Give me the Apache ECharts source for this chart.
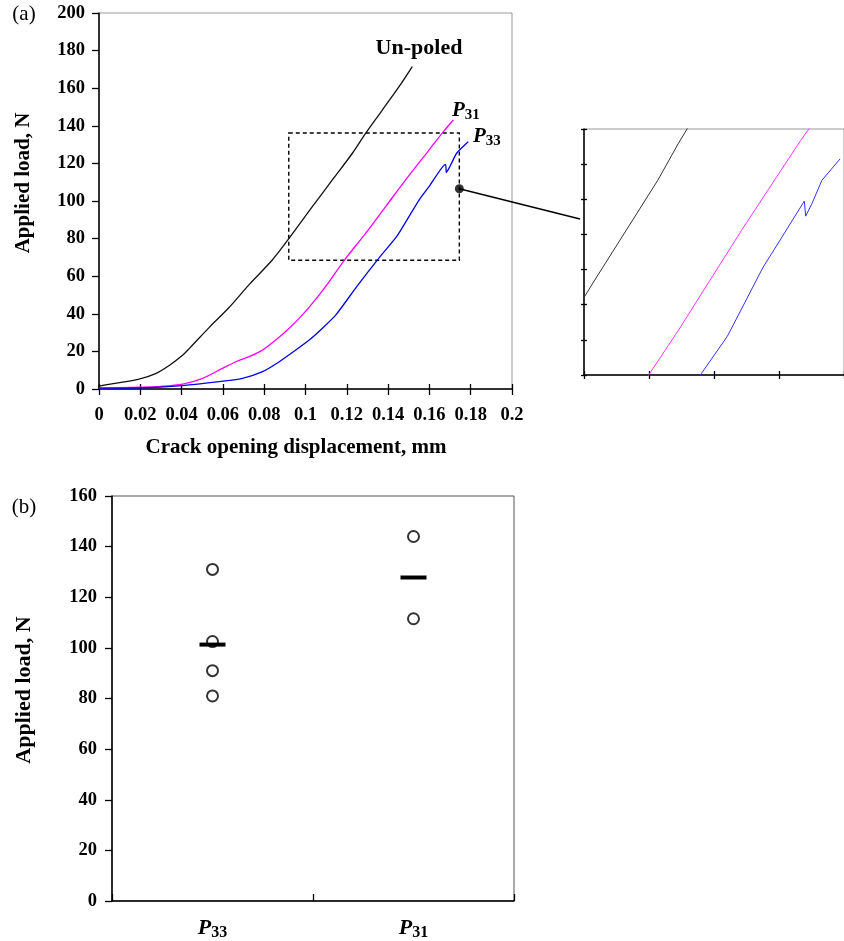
<!DOCTYPE html>
<html>
<head>
<meta charset="utf-8">
<script src="https://cdn.jsdelivr.net/npm/echarts@6/dist/echarts.min.js"></script>
<style>
  html, body { margin: 0; padding: 0; background: #fff; }
  #main { width: 844px; height: 941px; }
</style>
</head>
<body>
<div id="main"></div>
<script>
// (a) applied load vs crack opening displacement, points are [mm, N]
var unpoled = [[0, 0.5], [0.0005, 1.6], [0.0077, 3.0], [0.019, 5.1], [0.0271, 8], [0.034, 12.5],
  [0.040, 17.5], [0.0437, 21.5], [0.0534, 32.8], [0.0631, 43.5], [0.0727, 55.5], [0.0839, 68.6],
  [0.092, 80.1], [0.1033, 97], [0.113, 111.2], [0.1227, 125.4], [0.1291, 136], [0.1372, 148.4],
  [0.1453, 160.8], [0.1517, 171.5]];

var p31Curve = [[0, 0.5], [0.02, 1], [0.030, 1.4], [0.0405, 2.6], [0.0502, 5.7], [0.0598, 11],
  [0.0663, 14.5], [0.0727, 17.2], [0.0792, 20.7], [0.0856, 26], [0.0921, 32.3], [0.0985, 39.4],
  [0.1050, 47.8], [0.1114, 57], [0.1186, 68.2], [0.1291, 82.8], [0.1388, 97], [0.1485, 111.2],
  [0.1598, 127.1], [0.1667, 136.8], [0.1716, 143.1]];

var p33Curve = [[0, 0.5], [0.02, 0.6], [0.0405, 1.8], [0.0582, 3.9], [0.0695, 5.7], [0.0792, 9.2],
  [0.0873, 14.5], [0.0953, 20.7], [0.1018, 26], [0.1082, 32.3], [0.1147, 39.4], [0.1248, 54.4],
  [0.1361, 70.4], [0.1441, 81], [0.1501, 91.7], [0.1550, 100.5], [0.1598, 107.6],
  [0.1678, 119.5], [0.1682, 115.2], [0.1700, 118.5], [0.1732, 125.4], [0.1788, 131.5]];

// zoomed region marked on (a)
var zoomBox = [[0.0919, 136.2], [0.1745, 68.5]];
var zoomDot = [0.1745, 106.5];
var leaderEnd = [0.10, 114.4];

// (b) failure loads
var groups = ['P33', 'P31'];
var p33Loads = [131, 102.5, 91, 81];
var p31Loads = [144, 111.5];
var meanLoads = [101.3, 127.8];

var serif = '"Liberation Serif", "Times New Roman", serif';
var black = '#000';

var myChart = echarts.init(document.getElementById('main'));

function valueAxis(grid, min, max, step, o) {
  var ax = {
    type: 'value', gridIndex: grid, min: min, max: max, interval: step,
    splitLine: { show: false },
    axisLine: { show: true, lineStyle: { color: black, width: 1.5 } },
    axisTick: { show: true, inside: false, length: 6, lineStyle: { color: black, width: 1.3 } },
    axisLabel: { show: false }
  };
  return Object.assign(ax, o || {});
}

var tickFont = { fontFamily: serif, fontWeight: 'bold', fontSize: 18.5, color: black };
var subRich = {
  p: { fontFamily: serif, fontStyle: 'italic', fontWeight: 'bold', fontSize: 21, lineHeight: 24, color: black },
  s: { fontFamily: serif, fontWeight: 'bold', fontSize: 15, lineHeight: 14, verticalAlign: 'bottom', color: black }
};

var option = {
  animation: false,
  backgroundColor: '#fff',
  grid: [
    { left: 99, top: 13, width: 413, height: 376, show: true, borderColor: '#999', borderWidth: 1 },
    { left: 584, top: 129, width: 272, height: 246, show: true, borderColor: '#999', borderWidth: 1 },
    { left: 112, top: 496, width: 402, height: 407, show: true, borderColor: '#555', borderWidth: 1 }
  ],
  xAxis: [
    valueAxis(0, 0, 0.2, 0.02, {
      position: 'bottom',
      axisLabel: Object.assign({ show: true, margin: 17 }, tickFont)
    }),
    valueAxis(0, 0, 0.2, 0.02, {
      position: 'bottom',
      axisLine: { show: false },
      axisTick: { show: true, inside: true, length: 5, lineStyle: { color: black, width: 1.3 } }
    }),
    valueAxis(1, 0.10, 0.18, 0.02, {
      position: 'bottom',
      axisTick: { show: true, length: 4, lineStyle: { color: black, width: 1.3 } }
    }),
    valueAxis(1, 0.10, 0.18, 0.02, {
      position: 'bottom',
      axisLine: { show: false },
      axisTick: { show: true, inside: true, length: 4, lineStyle: { color: black, width: 1.3 } }
    }),
    {
      type: 'category', gridIndex: 2, data: groups, boundaryGap: true, position: 'bottom',
      axisLine: { show: true, lineStyle: { color: black, width: 1.5 } },
      axisTick: { show: true, inside: true, length: 7, lineStyle: { color: black, width: 1.3 } },
      axisLabel: {
        margin: 14,
        formatter: function (v) { return '{p|P}{s|' + v.slice(1) + '}'; },
        rich: {
          p: { fontFamily: serif, fontStyle: 'italic', fontWeight: 'bold', fontSize: 22, lineHeight: 26, color: black },
          s: { fontFamily: serif, fontWeight: 'bold', fontSize: 16, lineHeight: 15, verticalAlign: 'bottom', color: black }
        }
      }
    }
  ],
  yAxis: [
    valueAxis(0, 0, 200, 20, {
      position: 'left',
      axisTick: { show: true, length: 7, lineStyle: { color: black, width: 1.3 } },
      axisLabel: Object.assign({ show: true, margin: 14 }, tickFont)
    }),
    valueAxis(1, 70, 140, 10, {
      position: 'left',
      axisTick: { show: true, length: 3, lineStyle: { color: black, width: 1.3 } }
    }),
    valueAxis(1, 70, 140, 10, {
      position: 'left',
      axisLine: { show: false },
      axisTick: { show: true, inside: true, length: 3, lineStyle: { color: black, width: 1.3 } }
    }),
    valueAxis(2, 0, 160, 20, {
      position: 'left',
      axisTick: { show: true, length: 7, lineStyle: { color: black, width: 1.3 } },
      axisLabel: Object.assign({ show: true, margin: 15 }, tickFont)
    })
  ],
  series: [
    { name: 'Un-poled', type: 'line', xAxisIndex: 0, yAxisIndex: 0, data: unpoled, symbol: 'none',
      smooth: 0.3, lineStyle: { color: '#111', width: 1.3 } },
    { name: 'P31', type: 'line', xAxisIndex: 0, yAxisIndex: 0, data: p31Curve, symbol: 'none',
      smooth: 0.3, lineStyle: { color: '#ff00ff', width: 1.3 } },
    { name: 'P33', type: 'line', xAxisIndex: 0, yAxisIndex: 0, data: p33Curve, symbol: 'none',
      smooth: 0.2, lineStyle: { color: '#0000ee', width: 1.3 } },
    { name: 'zoom', type: 'scatter', xAxisIndex: 0, yAxisIndex: 0, data: [zoomDot],
      symbol: 'circle', symbolSize: 9, itemStyle: { color: black }, z: 5,
      markArea: {
        silent: true,
        itemStyle: { color: 'rgba(0,0,0,0)', borderColor: black, borderWidth: 1.4, borderType: [4, 3] },
        data: [[{ coord: zoomBox[0] }, { coord: zoomBox[1] }]]
      } },
    // inset: same curves, zoomed
    { name: 'Un-poled inset', type: 'line', xAxisIndex: 2, yAxisIndex: 1, data: unpoled, symbol: 'none',
      clip: true, lineStyle: { color: '#333', width: 1 } },
    { name: 'P31 inset', type: 'line', xAxisIndex: 2, yAxisIndex: 1, data: p31Curve, symbol: 'none',
      clip: true, lineStyle: { color: '#ff33ff', width: 1 } },
    { name: 'P33 inset', type: 'line', xAxisIndex: 2, yAxisIndex: 1, data: p33Curve, symbol: 'none',
      clip: true, lineStyle: { color: '#3333ff', width: 1 } },
    // (b)
    { name: 'P33 loads', type: 'scatter', xAxisIndex: 4, yAxisIndex: 3,
      data: p33Loads.map(function (v) { return [groups[0], v]; }),
      symbol: 'emptyCircle', symbolSize: 11, itemStyle: { color: black, borderColor: black, borderWidth: 1.2 } },
    { name: 'P31 loads', type: 'scatter', xAxisIndex: 4, yAxisIndex: 3,
      data: p31Loads.map(function (v) { return [groups[1], v]; }),
      symbol: 'emptyCircle', symbolSize: 11, itemStyle: { color: black, borderColor: black, borderWidth: 1.2 } },
    { name: 'mean', type: 'scatter', xAxisIndex: 4, yAxisIndex: 3, z: 4,
      data: meanLoads.map(function (v, i) { return [groups[i], v]; }),
      symbol: 'rect', symbolSize: [26, 4], itemStyle: { color: black, opacity: 1 } }
  ],
  graphic: [
    { type: 'text', x: 24, y: 14, style: { text: '(a)', font: '21px ' + serif, fill: black, align: 'center', verticalAlign: 'middle' } },
    { type: 'text', x: 24, y: 507, style: { text: '(b)', font: '21px ' + serif, fill: black, align: 'center', verticalAlign: 'middle' } },
    { type: 'text', x: 24, y: 183, rotation: Math.PI / 2,
      style: { text: 'Applied load, N', font: 'bold 21px ' + serif, fill: black, align: 'center', verticalAlign: 'middle' } },
    { type: 'text', x: 24, y: 690, rotation: Math.PI / 2,
      style: { text: 'Applied load, N', font: 'bold 22px ' + serif, fill: black, align: 'center', verticalAlign: 'middle' } },
    { type: 'text', x: 296, y: 448,
      style: { text: 'Crack opening displacement, mm', font: 'bold 21px ' + serif, fill: black, align: 'center', verticalAlign: 'middle' } },
    { type: 'text', x: 419, y: 48,
      style: { text: 'Un-poled', font: 'bold 22px ' + serif, fill: black, align: 'center', verticalAlign: 'middle' } },
    { type: 'text', x: 452, y: 111,
      style: { text: '{p|P}{s|31}', rich: subRich, align: 'left', verticalAlign: 'middle' } },
    { type: 'text', x: 473, y: 137,
      style: { text: '{p|P}{s|33}', rich: subRich, align: 'left', verticalAlign: 'middle' } }
  ]
};

myChart.setOption(option);

// leader line from the marker dot to the inset's axis
var from = myChart.convertToPixel({ xAxisIndex: 0, yAxisIndex: 0 }, zoomDot);
var to = myChart.convertToPixel({ xAxisIndex: 2, yAxisIndex: 1 }, leaderEnd);
myChart.setOption({
  graphic: option.graphic.concat([
    { type: 'line', shape: { x1: from[0], y1: from[1], x2: to[0] - 4, y2: to[1] },
      style: { stroke: black, lineWidth: 1.4 } }
  ])
});
</script>
</body>
</html>
